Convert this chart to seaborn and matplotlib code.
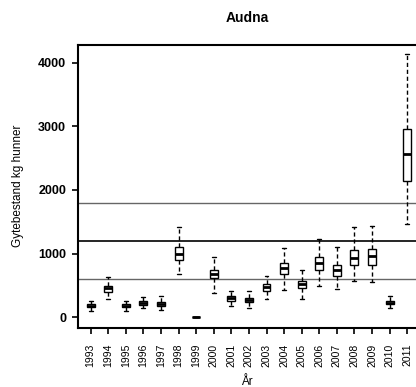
import numpy as np
import pandas as pd
import seaborn as sns
import matplotlib.pyplot as plt

# Yearly spawning-stock summaries (kg females)
years = [str(y) for y in range(1993, 2012)]
lo = [105, 283, 105, 141, 115, 675, 0, 387, 178, 147, 293, 429, 293, 492, 440, 576, 560, 152, 1460]
q1 = [157, 403, 157, 188, 173, 900, 1, 612, 262, 235, 419, 675, 460, 743, 649, 816, 822, 204, 2146]
med = [183, 455, 183, 220, 209, 994, 2, 675, 298, 272, 471, 769, 518, 848, 743, 931, 963, 230, 2569]
q3 = [209, 497, 209, 251, 246, 1099, 3, 743, 330, 309, 518, 853, 565, 942, 822, 1052, 1068, 262, 2951]
hi = [262, 638, 262, 324, 340, 1413, 4, 952, 419, 408, 654, 1083, 743, 1235, 1099, 1413, 1434, 340, 4129]
ref_lines = [600, 1200, 1800]

# five points per year -> quartiles hit q1/med/q3 exactly, whiskers to min/max
rows = []
for i, yr in enumerate(years):
    for v in (lo[i], q1[i], med[i], q3[i], hi[i]):
        rows.append({"year": yr, "value": v})
df = pd.DataFrame(rows)

sns.set_style("ticks")
plt.rcParams['font.family'] = ['Liberation Sans', 'DejaVu Sans']
for k in ["text.color", "axes.labelcolor", "xtick.color", "ytick.color", "axes.edgecolor"]:
    plt.rcParams[k] = "black"

fig = plt.figure(figsize=(4.16, 3.87), dpi=100)
ax = fig.add_axes([0.1875, 0.153, 0.8125, 0.7315])

for v, c, lw in zip(ref_lines, ["#666666", "black", "#666666"], [1.0, 1.2, 1.0]):
    ax.axhline(v, color=c, lw=lw, zorder=1)

sns.boxplot(data=df, x="year", y="value", whis=np.inf, width=0.45, ax=ax,
            color="white", linecolor="black", linewidth=1.0,
            whiskerprops=dict(linestyle=(0, (3, 2))),
            medianprops=dict(linewidth=2.0), zorder=3)

ax.set_xlim(-0.72, 18.5)
ax.set_ylim(-163, 4280)
ax.set_yticks([0, 1000, 2000, 3000, 4000])
ax.set_yticklabels(["0", "1000", "2000", "3000", "4000"], fontweight="bold", fontsize=9)
ax.set_xticks(range(len(years)))
ax.set_xticklabels(years, rotation=90, fontsize=7.5)
ax.tick_params(direction="out", length=4.5, width=1.2)
ax.tick_params(axis="x", pad=7)
ax.tick_params(axis="y", pad=4)
for s in ["left", "bottom", "top"]:
    ax.spines[s].set_linewidth(1.5)
ax.spines["right"].set_visible(False)

ax.set_title("Audna", fontweight="bold", fontsize=10, pad=16)
ax.set_ylabel("Gytebestand kg hunner", fontsize=8.5, labelpad=10)
ax.set_xlabel("År", fontsize=8.5, labelpad=6)

plt.savefig("out.png", dpi=100)
